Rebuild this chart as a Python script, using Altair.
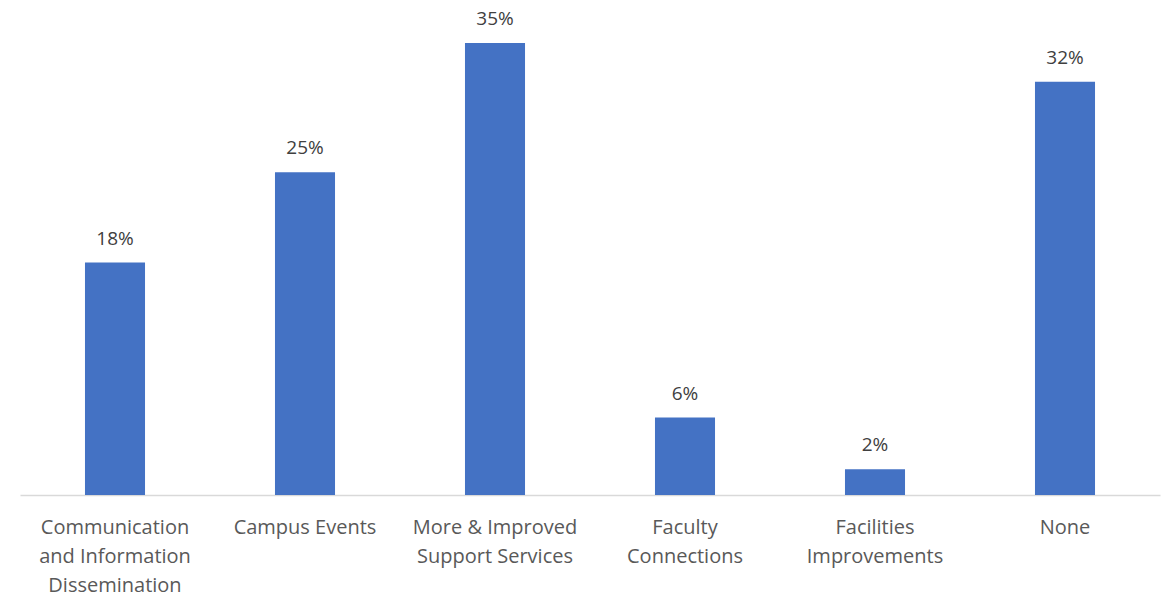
import altair as alt
import pandas as pd

categories = [
    "Communication\nand Information\nDissemination",
    "Campus Events",
    "More & Improved\nSupport Services",
    "Faculty\nConnections",
    "Facilities\nImprovements",
    "None",
]
values = [18, 25, 35, 6, 2, 32]

df = pd.DataFrame({"category": categories, "value": values})
df["label"] = df["value"].astype(str) + "%"

x = alt.X(
    "category:N",
    sort=categories,
    title=None,
    scale=alt.Scale(paddingInner=0.684, paddingOuter=0.342),
    axis=alt.Axis(
        labelAngle=0,
        labelExpr="split(datum.label, '\\n')",
        labelFont="Open Sans",
        labelFontSize=20,
        labelColor="#595959",
        labelLineHeight=29,
        labelBaseline="top",
        labelPadding=22,
        ticks=False,
        domainColor="#d9d9d9",
        domainWidth=1.5,
        labelLimit=300,
    ),
)
y = alt.Y(
    "value:Q",
    scale=alt.Scale(domain=[0, 35], nice=False),
    axis=None,
)

bars = alt.Chart(df).mark_bar(color="#4472C4").encode(x=x, y=y)
text = alt.Chart(df).mark_text(
    baseline="bottom", dy=-14, font="Open Sans", fontSize=19, color="#404040"
).encode(x=x, y=y, text="label:N")

chart = (
    (bars + text)
    .properties(
        width=1140,
        height=452,
        background="white",
        autosize=alt.AutoSizeParams(type="none"),
        padding={"left": 20, "top": 43, "right": 4, "bottom": 102},
    )
    .configure_view(strokeWidth=0)
)

chart.save("out.html", embed_options={"renderer": "svg", "actions": False})
